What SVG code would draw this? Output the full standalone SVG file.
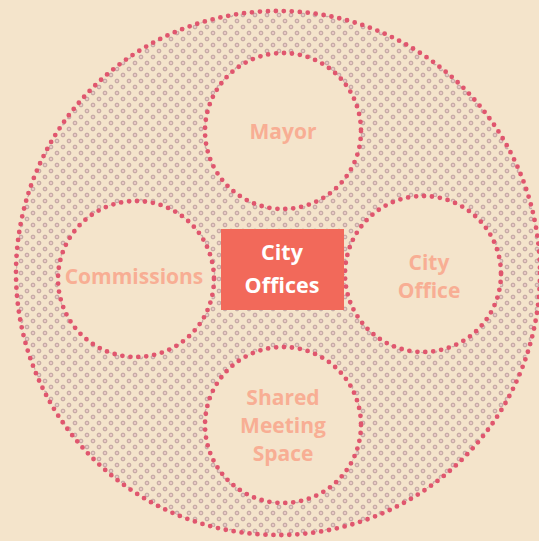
<svg xmlns="http://www.w3.org/2000/svg" width="539" height="541" viewBox="0 0 539 541">
<style>
.bg{fill:#f4e4cb}
.ring{fill:#f4e4cb;stroke:#e0566e;stroke-width:4.8;stroke-linecap:round;stroke-dasharray:0 8}
.lbl{font-family:"Open Sans","Liberation Sans",sans-serif;font-weight:700;font-size:21px;fill:#f8ae94;text-anchor:middle}
.ctr{font-family:"Open Sans","Liberation Sans",sans-serif;font-weight:700;font-size:21.5px;fill:#ffffff;text-anchor:middle}
</style>
<defs>
<pattern id="dots" patternUnits="userSpaceOnUse" width="12" height="12">
<circle cx="3" cy="3" r="1.9" fill="#e8c8c4" stroke="#a98c8c" stroke-width="0.7"/>
<circle cx="9" cy="9" r="1.9" fill="#e8c8c4" stroke="#a98c8c" stroke-width="0.7"/>
</pattern>
</defs>
<rect class="bg" x="0" y="0" width="539" height="541"/>
<g id="outer">
<circle cx="278" cy="273" r="262" fill="url(#dots)"/>
<circle cx="278" cy="273" r="262" fill="none" stroke="#e0566e" stroke-width="4.8" stroke-linecap="round" stroke-dasharray="0 8"/>
</g>
<g id="connectors"></g>
<g id="mayor">
<circle class="ring" cx="283" cy="131" r="78"/>
<text class="lbl" x="283" y="139">Mayor</text>
</g>
<g id="commissions">
<circle class="ring" cx="136" cy="279" r="78"/>
<text class="lbl" x="134" y="284">Commissions</text>
</g>
<g id="city-office">
<circle class="ring" cx="423" cy="274" r="78"/>
<text class="lbl" x="429" y="270">City</text>
<text class="lbl" x="429" y="298">Office</text>
</g>
<g id="shared">
<circle class="ring" cx="283" cy="425" r="78"/>
<text class="lbl" x="283" y="405">Shared</text>
<text class="lbl" x="283" y="433">Meeting</text>
<text class="lbl" x="283" y="461">Space</text>
</g>
<g id="city-offices">
<rect x="221" y="229" width="123" height="81" fill="#f2695a"/>
<text class="ctr" x="282" y="260">City</text>
<text class="ctr" x="282" y="293">Offices</text>
</g>
</svg>
